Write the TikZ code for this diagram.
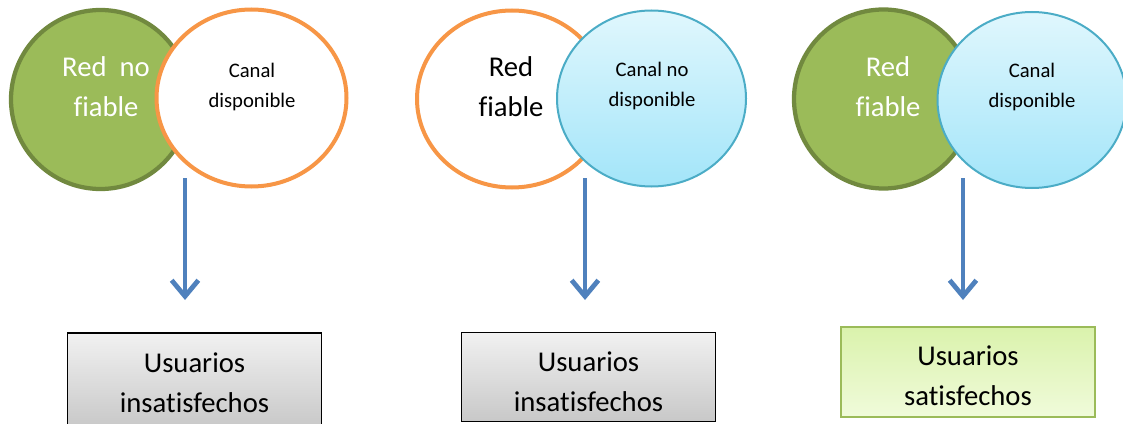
\documentclass[tikz,border=0pt]{standalone}
\usepackage{fontspec}
\setmainfont[Ligatures=NoCommon]{Carlito}
\usetikzlibrary{shapes.geometric,arrows.meta}

\definecolor{verde}{RGB}{155,187,89}
\definecolor{verdeosc}{RGB}{113,137,63}
\definecolor{naranja}{RGB}{247,150,70}
\definecolor{celeste}{RGB}{75,172,198}
\definecolor{celesteA}{RGB}{224,247,253}
\definecolor{celesteB}{RGB}{163,229,249}
\definecolor{azul}{RGB}{79,129,189}
\definecolor{grisA}{RGB}{241,241,241}
\definecolor{grisB}{RGB}{200,200,200}
\definecolor{limaA}{RGB}{218,242,172}
\definecolor{limaB}{RGB}{240,251,218}

\begin{document}
\begin{tikzpicture}[x=0.75pt,y=-0.75pt,
	redmala/.style={ellipse,draw=verdeosc,line width=3.2pt,fill=verde,minimum width=134.25pt,minimum height=134.25pt,inner sep=0pt},
	redbuena/.style={ellipse,draw=naranja,line width=3pt,fill=white,minimum width=142.5pt,minimum height=132.75pt,inner sep=0pt},
	canalno/.style={ellipse,draw=celeste,line width=1.5pt,top color=celesteA,bottom color=celesteB,minimum width=141.75pt,minimum height=132pt,inner sep=0pt},
	caja/.style={rectangle,draw=black,line width=1.1pt,top color=grisA,bottom color=grisB,minimum width=190.5pt,minimum height=66.75pt},
	cajaok/.style={rectangle,draw=verde,line width=1.5pt,top color=limaA,bottom color=limaB,minimum width=190.5pt,minimum height=67.5pt},
	grande/.style={align=center,inner sep=0pt,font=\fontsize{21.5}{30}\selectfont},
	chico/.style={align=center,inner sep=0pt,font=\fontsize{15.5}{22}\selectfont},
	flecha/.style={draw=azul,line width=3.6pt,-{Straight Barb[length=12pt,width=20pt]}}]

		\useasboundingbox (0,0) rectangle (1123,424);

		\node[redmala] (g1) at (100.5,99.5) {};
		\node[redbuena] (o1) at (251.5,98) {};
		\node[grande,text=white] (t1) at (106,87) {Red\ \ no\\fiable};
		\node[chico] (c1) at (252,87) {Canal\\disponible};

		\node[redbuena] (o2) at (512,99) {};
		\node[canalno] (b2) at (651.5,98.5) {};
		\node[grande] (t2) at (511,87) {Red\\fiable};
		\node[chico] (c2) at (652,86) {Canal no\\disponible};

		\node[redmala] (g3) at (883.5,99) {};
		\node[canalno] (b3) at (1032,100) {};
		\node[grande,text=white] (t3) at (888,87) {Red\\fiable};
		\node[chico] (c3) at (1032,87) {Canal\\disponible};

		\node[caja,minimum height=71pt] (u1) at (194.5,380.5) {};
		\node[grande] (u1t) at (194.5,383) {Usuarios\\insatisfechos};
		\node[caja] (u2) at (588.5,377) {};
		\node[grande] (u2t) at (588.5,382) {Usuarios\\insatisfechos};
		\node[cajaok] (u3) at (968,371.5) {};
		\node[grande] (u3t) at (968,376) {Usuarios\\satisfechos};

		\coordinate (a1) at (185,178);
		\coordinate (f1) at (185,300);
		\coordinate (a2) at (585,178);
		\coordinate (f2) at (585,300);
		\coordinate (a3) at (963,178);
		\coordinate (f3) at (963,300);

		\draw[flecha] (a1) -- (f1);
		\draw[flecha] (a2) -- (f2);
		\draw[flecha] (a3) -- (f3);
	\end{tikzpicture}
\end{document}
